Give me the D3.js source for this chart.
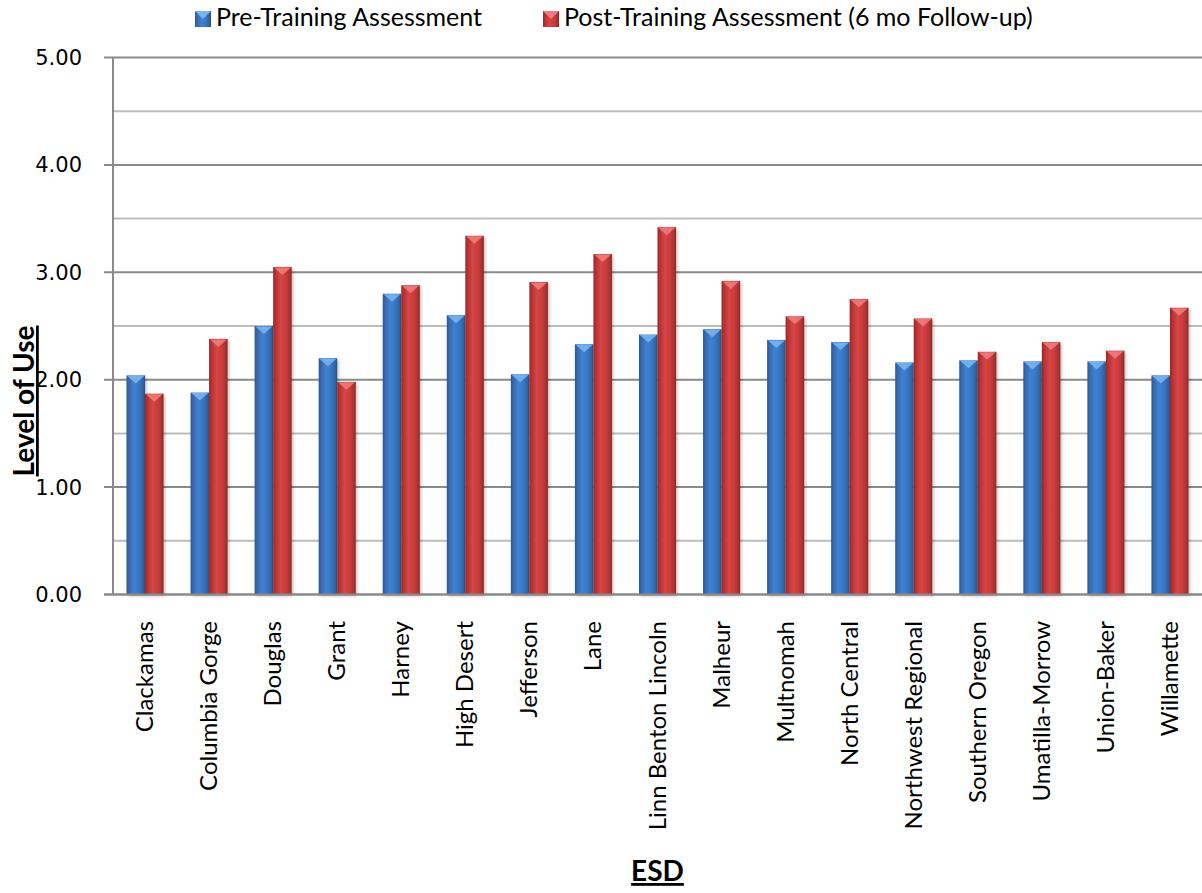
<!DOCTYPE html>
<html>
<head>
<meta charset="utf-8">
<script src="https://cdn.jsdelivr.net/npm/d3@7"></script>
<style>
  body { margin: 0; background: #fff; }
  svg { display: block; }
</style>
</head>
<body>
<div id="chart"></div>
<script>
var svgWidth = 1202;
var svgHeight = 893;

// data
var categories = ["Clackamas", "Columbia Gorge", "Douglas", "Grant", "Harney", "High Desert",
  "Jefferson", "Lane", "Linn Benton Lincoln", "Malheur", "Multnomah", "North Central",
  "Northwest Regional", "Southern Oregon", "Umatilla-Morrow", "Union-Baker", "Willamette"];
var preValues = [2.04, 1.88, 2.50, 2.20, 2.80, 2.60, 2.05, 2.33, 2.42, 2.47, 2.37, 2.35, 2.16, 2.18, 2.17, 2.17, 2.04];
var postValues = [1.87, 2.38, 3.05, 1.98, 2.88, 3.34, 2.91, 3.17, 3.42, 2.92, 2.59, 2.75, 2.57, 2.26, 2.35, 2.27, 2.67];
var seriesNames = ["Pre-Training Assessment", "Post-Training Assessment (6 mo Follow-up)"];
var yTicks = [0, 1, 2, 3, 4, 5];
var yMinor = [0.5, 1.5, 2.5, 3.5, 4.5];

var plot = { left: 113, right: 1202, top: 57.5, bottom: 594.5 };

var svg = d3.select("#chart")
  .append("svg")
  .attr("width", svgWidth)
  .attr("height", svgHeight);

var defs = svg.append("defs");

function barGradient(id, stops) {
  var g = defs.append("linearGradient").attr("id", id)
    .attr("x1", "0").attr("x2", "1").attr("y1", "0").attr("y2", "0");
  stops.forEach(function(s) {
    g.append("stop").attr("offset", s[0]).attr("stop-color", s[1]);
  });
}
barGradient("gBlue", [[0, "#2b5893"], [0.12, "#3568ad"], [0.4, "#4281cf"], [0.7, "#3a75c0"], [0.92, "#2f609f"], [1, "#264d82"]]);
barGradient("gRed", [[0, "#962828"], [0.12, "#b33232"], [0.4, "#d84545"], [0.7, "#c83c3c"], [0.92, "#a73030"], [1, "#872222"]]);

var shadow = defs.append("filter").attr("id", "shadow")
  .attr("x", "-30%").attr("y", "-10%").attr("width", "160%").attr("height", "120%");
shadow.append("feDropShadow").attr("dx", 1.5).attr("dy", 1.5).attr("stdDeviation", 1.5)
  .attr("flood-color", "#000").attr("flood-opacity", 0.25);

var yScale = d3.scaleLinear().domain([0, 5]).range([plot.bottom, plot.top]);

var xScale = d3.scaleBand()
  .domain(categories)
  .range([plot.left, plot.right])
  .paddingInner(0.422)
  .paddingOuter(0.211);

var xSub = d3.scaleBand().domain([0, 1]).range([0, xScale.bandwidth()]);

// minor gridlines
svg.append("g").selectAll("line")
  .data(yMinor)
  .enter().append("line")
  .attr("x1", plot.left).attr("x2", plot.right)
  .attr("y1", d => yScale(d)).attr("y2", d => yScale(d))
  .attr("stroke", "#bdbdbd").attr("stroke-width", 2);

// major gridlines + ticks
svg.append("g").selectAll("line")
  .data(yTicks)
  .enter().append("line")
  .attr("x1", plot.left - 9).attr("x2", plot.right)
  .attr("y1", d => yScale(d)).attr("y2", d => yScale(d))
  .attr("stroke", "#8a8a8a").attr("stroke-width", 2);

// y axis line
svg.append("line")
  .attr("x1", plot.left).attr("x2", plot.left)
  .attr("y1", plot.top).attr("y2", plot.bottom)
  .attr("stroke", "#8a8a8a").attr("stroke-width", 2);

// y tick labels
svg.append("g").selectAll("text")
  .data(yTicks)
  .enter().append("text")
  .attr("x", 82)
  .attr("y", d => yScale(d))
  .attr("dy", "0.36em")
  .attr("text-anchor", "end")
  .style("font-family", "'DejaVu Sans', sans-serif")
  .style("font-size", "21px")
  .attr("fill", "#000")
  .text(d => d3.format(".2f")(d));

// bars
var series = [
  { values: preValues, fill: "url(#gBlue)", top: "#77b4f2" },
  { values: postValues, fill: "url(#gRed)", top: "#f27a7a" }
];

series.forEach(function(s, si) {
  var g = svg.append("g");
  var groups = g.selectAll("g")
    .data(categories)
    .enter().append("g")
    .attr("transform", d => `translate(${xScale(d) + xSub(si)},0)`);

  groups.append("rect")
    .attr("x", 0)
    .attr("y", (d, i) => yScale(s.values[i]))
    .attr("width", xSub.bandwidth())
    .attr("height", (d, i) => yScale(0) - yScale(s.values[i]))
    .attr("fill", s.fill)
    .attr("filter", "url(#shadow)");

  // top bevel triangle
  groups.append("path")
    .attr("d", function(d, i) {
      var y0 = yScale(s.values[i]);
      var w = xSub.bandwidth();
      return `M0.8,${y0 + 0.5} L${w - 0.8},${y0 + 0.5} L${w / 2},${y0 + 8} Z`;
    })
    .attr("fill", s.top)
    .attr("opacity", 0.9);
});

// bottom axis line drawn on top of bars
svg.append("line")
  .attr("x1", plot.left - 9).attr("x2", plot.right)
  .attr("y1", plot.bottom).attr("y2", plot.bottom)
  .attr("stroke", "#8a8a8a").attr("stroke-width", 2);

// category labels
svg.append("g").selectAll("text")
  .data(categories)
  .enter().append("text")
  .attr("transform", d => `translate(${xScale(d) + xScale.bandwidth() / 2 + 8},621) rotate(-90)`)
  .attr("text-anchor", "end")
  .style("font-family", "Lato, sans-serif")
  .style("font-size", "24px")
  .attr("fill", "#000")
  .text(d => d);

// axis titles
svg.append("text")
  .attr("transform", "translate(34,401) rotate(-90)")
  .attr("text-anchor", "middle")
  .style("font-family", "Lato, sans-serif")
  .style("font-size", "28px")
  .style("font-weight", "bold")
  .style("text-decoration", "underline")
  .text("Level of Use");

svg.append("text")
  .attr("x", (plot.left + plot.right) / 2)
  .attr("y", 881)
  .attr("text-anchor", "middle")
  .style("font-family", "Lato, sans-serif")
  .style("font-size", "28px")
  .style("font-weight", "bold")
  .style("text-decoration", "underline")
  .text("ESD");

// legend
var legendX = [195, 543];
var legendColors = [["url(#gBlue)", "#77b4f2"], ["url(#gRed)", "#f27a7a"]];
var legend = svg.append("g").selectAll("g")
  .data(seriesNames)
  .enter().append("g")
  .attr("transform", (d, i) => `translate(${legendX[i]},11)`);

legend.append("rect")
  .attr("width", 16).attr("height", 16)
  .attr("fill", (d, i) => legendColors[i][0]);
legend.append("path")
  .attr("d", "M0,0 L16,0 L8,8 Z")
  .attr("fill", (d, i) => legendColors[i][1]);

legend.append("text")
  .attr("x", 21)
  .attr("y", 15)
  .style("font-family", "Lato, sans-serif")
  .style("font-size", "25px")
  .attr("fill", "#000")
  .text(d => d);
</script>
</body>
</html>
